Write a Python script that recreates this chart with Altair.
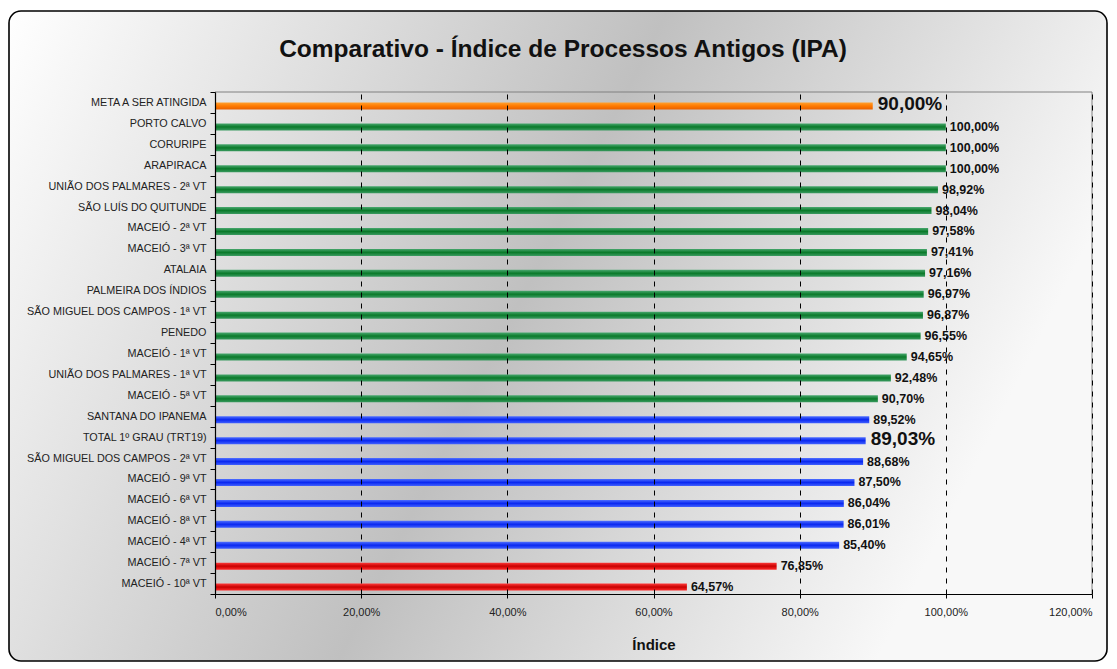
import altair as alt
import pandas as pd

titulo = "Comparativo - Índice de Processos Antigos (IPA)"
nomes = [
    "META A SER ATINGIDA", "PORTO CALVO", "CORURIPE", "ARAPIRACA",
    "UNIÃO DOS PALMARES - 2ª VT", "SÃO LUÍS DO QUITUNDE", "MACEIÓ - 2ª VT",
    "MACEIÓ - 3ª VT", "ATALAIA", "PALMEIRA DOS ÍNDIOS",
    "SÃO MIGUEL DOS CAMPOS - 1ª VT", "PENEDO", "MACEIÓ - 1ª VT",
    "UNIÃO DOS PALMARES - 1ª VT", "MACEIÓ - 5ª VT", "SANTANA DO IPANEMA",
    "TOTAL 1º GRAU (TRT19)", "SÃO MIGUEL DOS CAMPOS - 2ª VT", "MACEIÓ - 9ª VT",
    "MACEIÓ - 6ª VT", "MACEIÓ - 8ª VT", "MACEIÓ - 4ª VT", "MACEIÓ - 7ª VT",
    "MACEIÓ - 10ª VT",
]
valores = [90.00, 100.00, 100.00, 100.00, 98.92, 98.04, 97.58, 97.41, 97.16,
           96.97, 96.87, 96.55, 94.65, 92.48, 90.70, 89.52, 89.03, 88.68,
           87.50, 86.04, 86.01, 85.40, 76.85, 64.57]
grupos = (["meta"] + ["verde"] * 14 + ["azul"] * 7 + ["vermelho"] * 2)
destaque = ["META A SER ATINGIDA", "TOTAL 1º GRAU (TRT19)"]

df = pd.DataFrame({"nome": nomes, "valor": valores, "grupo": grupos})
df["destaque"] = df["nome"].isin(destaque)

W, H = 877, 502
FONT = "Liberation Sans"

def grad(c0, c1, c2):
    return alt.LinearGradient(
        gradient="linear", x1=0, y1=0, x2=0, y2=1,
        stops=[alt.GradientStop(offset=0, color=c0),
               alt.GradientStop(offset=0.5, color=c1),
               alt.GradientStop(offset=1, color=c2)])

cores = {
    "meta": grad("#ffa030", "#ff7a00", "#e86000"),
    "verde": grad("#4aa870", "#0a7a2a", "#3a9a60"),
    "azul": grad("#5070ff", "#0a28f0", "#4060ff"),
    "vermelho": grad("#ff3a3a", "#c80000", "#ff2a2a"),
}

one = pd.DataFrame({"a": [0]})

fundo = alt.Chart(one).mark_rect(
    cornerRadius=12, stroke="black", strokeWidth=1.6,
    color=alt.LinearGradient(
        gradient="linear", x1=0, y1=0, x2=1, y2=0.3,
        stops=[alt.GradientStop(offset=0, color="#ffffff"),
               alt.GradientStop(offset=0.55, color="#c0c0c0"),
               alt.GradientStop(offset=1, color="#f8f8f8")]),
).encode(x=alt.value(-206), x2=alt.value(892), y=alt.value(-81), y2=alt.value(569))

titulo_txt = alt.Chart(one).mark_text(
    font=FONT, fontSize=24.5, fontWeight="bold", color="#111",
    align="center", baseline="alphabetic",
).encode(x=alt.value(348), y=alt.value(-35), text=alt.value(titulo))

borda_top = alt.Chart(one).mark_rule(color="#808080", strokeWidth=1).encode(
    x=alt.value(0), x2=alt.value(W), y=alt.value(0))
borda_dir = alt.Chart(one).mark_rule(color="#808080", strokeWidth=1).encode(
    x=alt.value(W), y=alt.value(0), y2=alt.value(H))

x_enc = alt.X(
    "valor:Q",
    scale=alt.Scale(domain=[0, 120], nice=False),
    axis=alt.Axis(
        values=[0, 20, 40, 60, 80, 100, 120],
        labelExpr="replace(format(datum.value, '.2f'), '.', ',') + '%'",
        title="Índice", titleFontSize=15, titleFontWeight="bold",
        titleColor="#111", titlePadding=20,
        grid=True, gridDash=[5, 6], gridColor="black", gridOpacity=1,
        domainColor="black", domainWidth=1.2, tickColor="black", tickSize=4,
        labelFontSize=11, labelColor="#222", labelPadding=8, zindex=1,
    ),
)
y_enc = alt.Y(
    "nome:N", sort=nomes,
    scale=alt.Scale(paddingInner=0, paddingOuter=0),
    axis=alt.Axis(
        title=None, labelFontSize=10.8, labelColor="#222", tickBand="extent",
        tickSize=5, tickColor="black", domainColor="black", domainWidth=1.2,
        labelPadding=4, zindex=1, grid=False,
    ),
)

base = alt.Chart(df).encode(x=x_enc, y=y_enc)

barras = [
    base.transform_filter(alt.datum.grupo == g).mark_bar(size=7, yOffset=3.5, color=c)
    for g, c in cores.items()
]

rot = base.transform_calculate(
    txt="replace(format(datum.valor, '.2f'), '.', ',') + '%'")
rot_norm = rot.transform_filter(alt.datum.destaque == False).mark_text(
    align="left", baseline="middle", dx=4, dy=3.5, fontWeight="bold",
    fontSize=12.5, color="#111", font=FONT).encode(text="txt:N")
rot_big = rot.transform_filter(alt.datum.destaque == True).mark_text(
    align="left", baseline="middle", dx=5, dy=2, fontWeight="bold",
    fontSize=19, color="#111", font=FONT).encode(text="txt:N")

chart = alt.layer(fundo, titulo_txt, borda_top, borda_dir, *barras, rot_norm, rot_big).properties(
    width=W, height=H,
    autosize="none",
    padding={"left": 207, "top": 84, "right": 16, "bottom": 68},
).configure(font=FONT, background="white").configure_view(stroke=None)

chart.save("out.html", embed_options={"renderer": "svg", "actions": False})
